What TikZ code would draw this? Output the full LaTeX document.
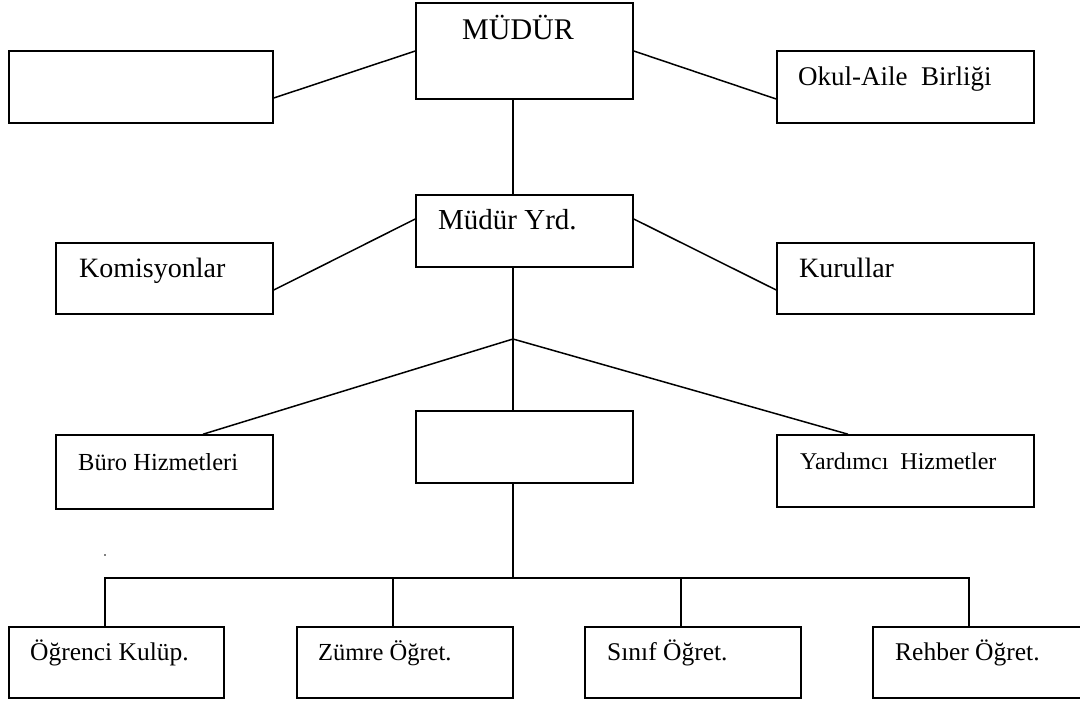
\documentclass[tikz,border=0pt]{standalone}
\usepackage{fontspec}
\setmainfont{Liberation Serif}
\usetikzlibrary{calc}
\tikzset{
  box/.style={draw, line width=1.6pt, inner sep=0pt, fill=white},
  lbl/.style={anchor=base west, inner sep=0pt, text=black},
  conn/.style={line width=1.5pt, line cap=butt},
}
\newcommand{\fs}[1]{\fontsize{#1}{#1}\selectfont}
\begin{document}
\begin{tikzpicture}[x=1pt,y=-1pt]
\useasboundingbox (0,0) rectangle (1080,702);
\fill[white] (0,0) rectangle (1080,702);
% boxes
\node[box, minimum width=217pt, minimum height=96pt] (mudur) at (524.5,51) {};
\node[box, minimum width=264pt, minimum height=72pt] (leftbox) at (141,87) {};
\node[box, minimum width=257pt, minimum height=72pt] (okul) at (905.5,87) {};
\node[box, minimum width=217pt, minimum height=72pt] (yrd) at (524.5,231) {};
\node[box, minimum width=217pt, minimum height=71pt] (komis) at (164.5,278.5) {};
\node[box, minimum width=257pt, minimum height=71pt] (kurul) at (905.5,278.5) {};
\node[box, minimum width=217pt, minimum height=74pt] (buro) at (164.5,472) {};
\node[box, minimum width=217pt, minimum height=72pt] (mid) at (524.5,447) {};
\node[box, minimum width=257pt, minimum height=72pt] (yard) at (905.5,471) {};
\node[box, minimum width=215pt, minimum height=71pt] (ogr) at (116.5,662.5) {};
\node[box, minimum width=216pt, minimum height=71pt] (zum) at (405,662.5) {};
\node[box, minimum width=216pt, minimum height=71pt] (sin) at (693,662.5) {};
\node[box, minimum width=216pt, minimum height=71pt] (reh) at (981,662.5) {};
% labels
\node[lbl] (tmudur) at (462,39) {\fs{30}MÜDÜR};
\node[lbl] (tokul) at (798,85) {\fs{27}Okul-Aile~~Birliği};
\node[lbl] (tyrd) at (438,229) {\fs{29}Müdür Yrd.};
\node[lbl] (tkomis) at (79,277) {\fs{28}Komisyonlar};
\node[lbl] (tkurul) at (799,277) {\fs{28}Kurullar};
\node[lbl] (tburo) at (78,470) {\fs{24.5}Büro Hizmetleri};
\node[lbl] (tyard) at (800,469) {\fs{24}Yardımcı~~Hizmetler};
\node[lbl] (togr) at (30,660) {\fs{25.5}Öğrenci Kulüp.};
\node[lbl] (tzum) at (318,660) {\fs{24.5}Zümre Öğret.};
\node[lbl] (tsin) at (607,660) {\fs{25.5}Sınıf Öğret.};
\node[lbl] (treh) at (895,660) {\fs{25.5}Rehber Öğret.};
% coordinates
\coordinate (j1) at (513,339);
\coordinate (hb) at (513,578);
% connectors top
\draw[conn] (mudur.west) -- ([yshift=-11pt]leftbox.east);
\draw[conn] (mudur.east) -- ([yshift=-12pt]okul.west);
\draw[conn] ([xshift=-11.5pt]mudur.south) -- ([xshift=-11.5pt]yrd.north);
\draw[conn] ([yshift=12pt]yrd.west) -- ([yshift=-11.5pt]komis.east);
\draw[conn] ([yshift=12pt]yrd.east) -- ([yshift=-11.5pt]kurul.west);
\draw[conn] ([xshift=-11.5pt]yrd.south) -- (j1);
\draw[conn] (j1) -- ([xshift=38.5pt]buro.north);
\draw[conn] (j1) -- ([xshift=-57.5pt]yard.north);
\draw[conn] (j1) -- ([xshift=-11.5pt]mid.north);
\draw[conn] ([xshift=-11.5pt]mid.south) -- (hb);
% bottom bus
\draw[conn] ([xshift=-11.5pt]ogr.north) |- (hb);
\draw[conn] ([xshift=-12pt]zum.north) -- ([xshift=-12pt]zum.north |- hb);
\draw[conn] ([xshift=-12pt]sin.north) -- ([xshift=-12pt]sin.north |- hb);
\draw[conn] ([xshift=-12pt]reh.north) |- (hb);
% stray dot
\fill (105,555) circle (0.8);
\end{tikzpicture}
\end{document}
